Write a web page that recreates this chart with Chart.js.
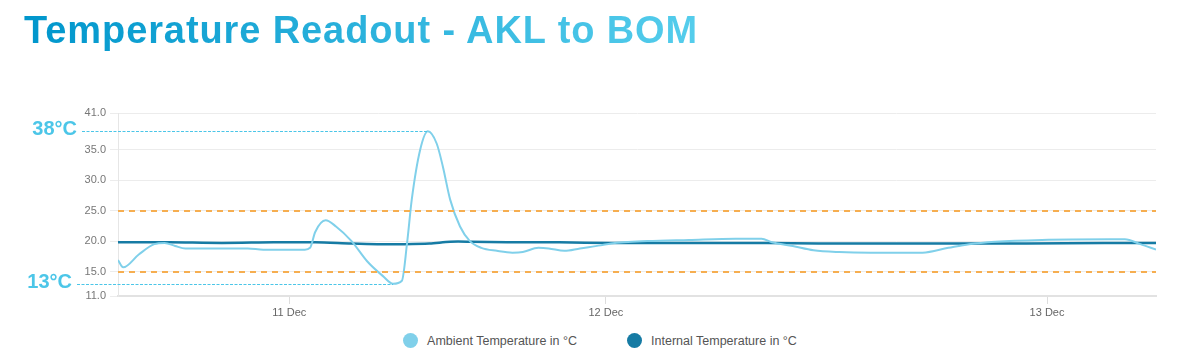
<!DOCTYPE html>
<html>
<head>
<meta charset="utf-8">
<title>Temperature Readout - AKL to BOM</title>
<script src="https://cdn.jsdelivr.net/npm/chart.js@4/dist/chart.umd.min.js"></script>
<style>
    body { margin: 0; background: #fff; font-family: "Liberation Sans", Arial, sans-serif; }
    #wrap { position: relative; width: 1200px; height: 359px; overflow: hidden; }
    h1 {
        position: absolute; left: 24px; top: 9px; margin: 0;
        font-size: 38px; font-weight: bold; letter-spacing: 0.9px;
        background: linear-gradient(90deg, #0096cc, #55cdec);
        -webkit-background-clip: text; background-clip: text; color: transparent;
    }
    #chartBox { position: absolute; left: 0; top: 0; width: 1200px; height: 330px; }
    #legend {
        position: absolute; left: 0; top: 333px; width: 1200px;
        display: flex; justify-content: center; gap: 50px;
        font-size: 12.5px; color: #555;
    }
    #legend span.item { display: flex; align-items: center; }
    #legend i { display: inline-block; width: 15px; height: 15px; border-radius: 50%; margin-right: 9px; }
</style>
</head>
<body>
<div id="wrap">
    <h1>Temperature Readout - AKL to BOM</h1>
    <div id="chartBox"><canvas id="tempChart"></canvas></div>
    <div id="legend"></div>
</div>
<script>
// Sample positions along the trip (x axis) and readings in °C
const ambientIdx = [0, 1, 4, 7, 9, 11, 13, 25, 28, 36, 37, 38, 40, 42, 45, 48, 51, 53, 54.7, 55.7,
    56.6, 58.2, 59.7, 61.4, 62.6, 64, 65.9, 67.8, 70, 73, 76, 78, 81, 83, 86, 89, 93, 95, 102, 110,
    119, 124, 126, 130, 134, 139, 145, 155, 160, 164, 169, 178, 191, 194, 197, 200];
const ambientTemp = [16.9, 15.7, 17.8, 19.5, 19.7, 19.2, 18.8, 18.8, 18.6, 18.6, 18.9, 21.5, 23.4, 22.4, 20.0, 16.7, 14.3, 13.0, 13.5, 19.7,
    26.8, 34.9, 38.0, 36.0, 32.2, 26.8, 22.4, 20.0, 18.9, 18.4, 18.1, 18.2, 18.9, 18.8, 18.4, 18.8, 19.3, 19.6, 20.0, 20.2,
    20.4, 20.4, 19.8, 19.2, 18.5, 18.2, 18.1, 18.1, 18.9, 19.5, 19.9, 20.2, 20.3, 20.3, 19.5, 18.6];

const internalIdx = [0, 10, 20, 30, 38, 45, 50, 55, 60, 64, 68, 75, 85, 95, 110, 125, 135, 145, 160, 175, 190, 200];
const internalTemp = [19.8, 19.8, 19.7, 19.8, 19.8, 19.6, 19.5, 19.5, 19.6, 19.9, 19.9, 19.8, 19.8, 19.7, 19.7, 19.7, 19.6, 19.6, 19.6, 19.6, 19.7, 19.7];

// x axis day labels and where they fall
const dayTickIdx = [33, 94, 179];
const dayTickLabels = ['11 Dec', '12 Dec', '13 Dec'];

// y axis ticks and the safe band
const yTicks = [11, 15, 20, 25, 30, 35, 41];
const safeBand = [15, 25];

const ambientColor = '#80d0ea';
const internalColor = '#167ba4';
const markColor = '#4cc6e8';

function toPoints(xs, ys) {
    return xs.map((x, i) => ({ x: x, y: ys[i] }));
}

// draws the orange band limits and the min / max callouts
const calloutPlugin = {
    id: 'callouts',
    afterDatasetsDraw(chart) {
        const { ctx, chartArea, scales: { x, y } } = chart;

        ctx.save();
        ctx.strokeStyle = '#f6ae50';
        ctx.lineWidth = 2;
        ctx.setLineDash([6, 5]);
        safeBand.forEach(v => {
            const py = Math.round(y.getPixelForValue(v));
            ctx.beginPath();
            ctx.moveTo(chartArea.left, py);
            ctx.lineTo(chartArea.right, py);
            ctx.stroke();
        });
        ctx.restore();

        const maxVal = Math.max(...ambientTemp);
        const minVal = Math.min(...ambientTemp);
        const marks = [
            { val: maxVal, idx: ambientIdx[ambientTemp.indexOf(maxVal)], textRight: 77 },
            { val: minVal, idx: ambientIdx[ambientTemp.indexOf(minVal)], textRight: 72 }
        ];

        ctx.save();
        marks.forEach(m => {
            const px = x.getPixelForValue(m.idx);
            const py = Math.round(y.getPixelForValue(m.val)) + 0.5;
            ctx.strokeStyle = markColor;
            ctx.lineWidth = 1.2;
            ctx.setLineDash([3, 1.5]);
            ctx.beginPath();
            ctx.moveTo(m.textRight + 5, py);
            ctx.lineTo(px, py);
            ctx.stroke();

            ctx.fillStyle = markColor;
            ctx.font = 'bold 20px "Liberation Sans", Arial, sans-serif';
            ctx.textAlign = 'right';
            ctx.textBaseline = 'middle';
            ctx.fillText(Math.round(m.val) + '°C', m.textRight, py - 2);
        });
        ctx.restore();
    }
};

const chartData = {
    datasets: [{
        label: 'Ambient Temperature in °C',
        data: toPoints(ambientIdx, ambientTemp),
        borderColor: ambientColor,
        backgroundColor: ambientColor,
        borderWidth: 2,
        pointRadius: 0,
        cubicInterpolationMode: 'monotone'
    }, {
        label: 'Internal Temperature in °C',
        data: toPoints(internalIdx, internalTemp),
        borderColor: internalColor,
        backgroundColor: internalColor,
        borderWidth: 2.5,
        pointRadius: 0,
        tension: 0.3
    }]
};

const chartOptions = {
    responsive: true,
    maintainAspectRatio: false,
    animation: false,
    layout: { padding: { left: 83, top: 113, right: 44, bottom: 4 } },
    scales: {
        x: {
            type: 'linear',
            min: 0,
            max: 200,
            afterBuildTicks: scale => { scale.ticks = dayTickIdx.map(v => ({ value: v })); },
            afterFit: scale => { scale.height = 30; },
            grid: { drawOnChartArea: false, color: '#dddddd', tickLength: 8 },
            border: { color: '#e2e2e2', width: 2 },
            ticks: {
                color: '#666',
                font: { size: 11, family: '"Liberation Sans", Arial, sans-serif' },
                padding: 2,
                maxRotation: 0,
                callback: v => dayTickLabels[dayTickIdx.indexOf(v)]
            }
        },
        y: {
            min: 11,
            max: 41,
            afterBuildTicks: scale => { scale.ticks = yTicks.map(v => ({ value: v })); },
            afterFit: scale => { scale.width = 35; },
            grid: { color: '#ececec', tickLength: 8 },
            border: { color: '#e6e6e6' },
            ticks: {
                color: '#777',
                font: { size: 11, family: '"Liberation Sans", Arial, sans-serif' },
                padding: 4,
                callback: v => v.toFixed(1)
            }
        }
    },
    plugins: {
        legend: { display: false },
        tooltip: { enabled: false }
    }
};

const tempChart = new Chart(document.getElementById('tempChart').getContext('2d'), {
    type: 'line',
    data: chartData,
    options: chartOptions,
    plugins: [calloutPlugin]
});

// legend underneath, built from the datasets
const legendBox = document.getElementById('legend');
tempChart.data.datasets.forEach(ds => {
    const item = document.createElement('span');
    item.className = 'item';
    const dot = document.createElement('i');
    dot.style.background = ds.borderColor;
    item.appendChild(dot);
    item.appendChild(document.createTextNode(ds.label));
    legendBox.appendChild(item);
});
</script>
</body>
</html>
